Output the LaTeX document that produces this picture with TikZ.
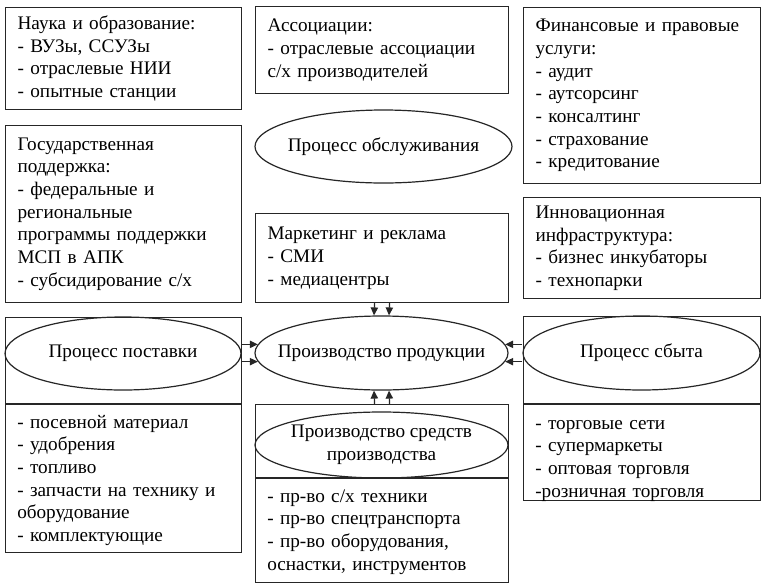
\documentclass[tikz,border=0pt]{standalone}
\usepackage{fontspec}
\setmainfont{Liberation Serif}
\usetikzlibrary{shapes.geometric,arrows.meta,calc}
\newcommand{\zw}[1]{\makebox[0pt]{#1}}
\begin{document}
\begin{tikzpicture}[x=0.75pt,y=-0.75pt,
  every node/.style={font=\fontsize{14.4}{17}\selectfont},
  ln/.style={line width=0.9pt, draw=black!85},
  box/.style={ln, draw, rectangle, anchor=north west, align=left, inner xsep=9pt, inner ysep=0pt},
  frame/.style={ln, draw, rectangle, anchor=north west, inner sep=0pt},
  proc/.style={ln, draw, ellipse, inner sep=0pt, align=center},
  list/.style={anchor=base west, align=left, inner xsep=9pt, inner ysep=0pt},
  arr/.style={ln, -{Triangle[length=6pt,width=5.5pt]}}
]
\fill[white] (0,0) rectangle (767,586);
\useasboundingbox (0,0) rectangle (767,586);

% left column
\node[box, text width=159pt, minimum width=177pt, minimum height=76.5pt] (nauka) at (5,7)
  {Наука и образование:\\- ВУЗы, ССУЗы\\- отраслевые НИИ\\- опытные станции};
\node[box, text width=159pt, minimum width=177pt, minimum height=132.75pt] (gos) at (5,125)
  {Государственная\\поддержка:\\- федеральные и\\региональные\\программы поддержки\\МСП в АПК\\- субсидирование с/х};

% middle column
\node[box, text width=171.75pt, minimum width=189.75pt, minimum height=65.25pt] (assoc) at (255,6)
  {Ассоциации:\\- отраслевые ассоциации\\с/х производителей};
\node[proc, minimum width=192.75pt, minimum height=54.75pt] (obsl) at (383.5,146.5)
  {\zw{Процесс обслуживания}};
\node[box, text width=171.75pt, minimum width=189.75pt, minimum height=66.75pt] (mkt) at (255,213)
  {Маркетинг и реклама\\- СМИ\\- медиацентры};

% right column
\node[box, text width=159.75pt, minimum width=177.75pt, minimum height=132pt] (fin) at (523,7)
  {Финансовые и правовые\\услуги:\\- аудит\\- аутсорсинг\\- консалтинг\\- страхование\\- кредитование};
\node[box, text width=159.75pt, minimum width=177.75pt, minimum height=75.75pt] (innov) at (523,197)
  {Инновационная\\инфраструктура:\\- бизнес инкубаторы\\- технопарки};

% central process
\node[proc, minimum width=189.75pt, minimum height=55.5pt] (prod) at (381.5,353)
  {\zw{Производство продукции}};

% supply (left)
\node[frame, minimum width=177pt, minimum height=176.25pt] (supF) at (5,317) {};
\node[proc, minimum width=177pt, minimum height=54.75pt] (sup) at (123,353.5) {\zw{Процесс поставки}};
\coordinate (supD) at (5,404);
\draw[ln] (supD) -- (supD -| supF.east);
\node[list, text width=159pt] (supL) at (5,428)
  {- посевной материал\\- удобрения\\- топливо\\- запчасти на технику и\\оборудование\\- комплектующие};

% sales (right)
\node[frame, minimum width=177.75pt, minimum height=138pt] (salF) at (523,316) {};
\node[proc, minimum width=177.75pt, minimum height=55.5pt] (sal) at (641.5,353) {\zw{Процесс сбыта}};
\coordinate (salD) at (523,404);
\draw[ln] (salD) -- (salD -| salF.east);
\node[list, text width=159.75pt] (salL) at (523,429)
  {- торговые сети\\- супермаркеты\\- оптовая торговля\\-розничная торговля};

% means of production (bottom)
\node[frame, minimum width=189.75pt, minimum height=133.5pt] (sprF) at (255,404) {};
\node[proc, minimum width=189.75pt, minimum height=49.5pt] (spr) at (381.5,445)
  {\zw{Производство средств}\\\zw{производства}};
\coordinate (sprD) at (255,478);
\draw[ln] (sprD) -- (sprD -| sprF.east);
\node[list, text width=171.75pt] (sprL) at (255,502)
  {- пр-во с/х техники\\- пр-во спецтранспорта\\- пр-во оборудования,\\оснастки, инструментов};

% arrows
\draw[arr] ($(mkt.south)+(-7.5,0)$) -- ($(prod.north)+(-7.5,0)$);
\draw[arr] ($(mkt.south)+(7.5,0)$) -- ($(prod.north)+(7.5,0)$);
\draw[arr] ($(sprF.north)+(-7.5,0)$) -- ($(prod.south)+(-7.5,0)$);
\draw[arr] ($(sprF.north)+(7.5,0)$) -- ($(prod.south)+(7.5,0)$);
\draw[arr] (prod.176 -| sup.east) -- (prod.176);
\draw[arr] (prod.184 -| sup.east) -- (prod.184);
\draw[arr] (prod.4 -| sal.west) -- (prod.4);
\draw[arr] (prod.356 -| sal.west) -- (prod.356);
\end{tikzpicture}
\end{document}
